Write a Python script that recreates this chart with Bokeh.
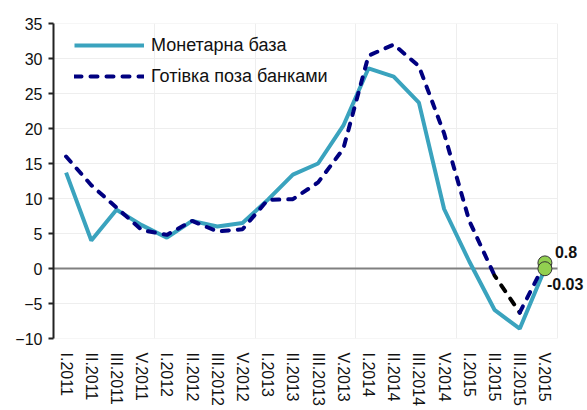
from bokeh.plotting import figure
from bokeh.models import FixedTicker, Legend, LegendItem, Grid, Label
from bokeh.embed import file_html
from bokeh.resources import INLINE

labels = ["I.2011", "II.2011", "III.2011", "V.2011",
          "I.2012", "II.2012", "III.2012", "V.2012",
          "I.2013", "II.2013", "III.2013", "V.2013",
          "I.2014", "II.2014", "III.2014", "V.2014",
          "I.2015", "II.2015", "III.2015", "V.2015"]
monetary_base = [13.7, 4.0, 8.4, 6.2, 4.4, 6.8, 6.0, 6.5, 9.8, 13.4,
                 15.0, 20.4, 28.6, 27.4, 23.7, 8.5, 1.0, -5.9, -8.6, -0.03]
cash_outside = [16.0, 11.9, 8.7, 5.5, 4.8, 6.8, 5.3, 5.6, 9.8, 9.9,
                12.3, 17.1, 30.4, 32.0, 28.9, 19.3, 6.8, -1.0, -6.3, 0.8]
name_base = "Монетарна база"
name_cash = "Готівка поза банками"
end_labels = ["0.8", "-0.03"]
y_ticks = list(range(-10, 36, 5))

FONT = "Liberation Sans"
n = len(labels)
xs = list(range(n))
x_left, x_right = -0.5, n - 0.5

# frame extends to the canvas edge so that the end labels are not clipped
p = figure(width=587, height=410, output_backend="svg", toolbar_location=None,
           x_range=(x_left, x_right + 1.19), y_range=(-10, 35),
           min_border_left=53, min_border_right=0, min_border_top=23, min_border_bottom=72)
p.outline_line_color = None
p.background_fill_color = "white"

# grids (drawn only across the category span)
p.xgrid.visible = False
p.ygrid.visible = False
vgrid = Grid(dimension=0, ticker=FixedTicker(ticks=[x_left + 4 * k for k in range(6)]),
             grid_line_color="#EEEEEE", grid_line_width=1)
p.add_layout(vgrid)
grid_y = [t for t in y_ticks if t != 0]
p.segment(x0=[x_left] * len(grid_y), x1=[x_right] * len(grid_y), y0=grid_y, y1=grid_y,
          line_color="#EEEEEE", line_width=1)
# zero line
p.segment(x0=[x_left], x1=[x_right], y0=[0], y1=[0], line_color="#808080", line_width=2)

# y axis
p.yaxis.ticker = FixedTicker(ticks=y_ticks)
p.yaxis.axis_line_color = "#222222"
p.yaxis.axis_line_width = 2
p.yaxis.major_tick_line_color = "#222222"
p.yaxis.major_tick_line_width = 2
p.yaxis.major_tick_out = 5
p.yaxis.major_tick_in = 0
p.yaxis.minor_tick_line_color = None
p.yaxis.major_label_text_font = FONT
p.yaxis.major_label_text_font_size = "16px"
p.yaxis.major_label_text_color = "#111111"
p.yaxis.major_label_standoff = 6

# x axis
p.xaxis.ticker = FixedTicker(ticks=xs)
p.xaxis.major_label_overrides = {i: l for i, l in enumerate(labels)}
p.xaxis.axis_line_color = None
p.xaxis.major_tick_line_color = None
p.xaxis.minor_tick_line_color = None
p.xaxis.major_label_orientation = "vertical"
p.xaxis.major_label_text_font = FONT
p.xaxis.major_label_text_font_size = "16px"
p.xaxis.major_label_text_color = "#111111"
p.xaxis.major_label_standoff = 8

DASH = "7 9"
r_base = p.line(xs, monetary_base, line_color="#3AA3BE", line_width=4)
r_cash = p.line(xs[:18], cash_outside[:18], line_color="#000080", line_width=4,
                line_dash=DASH, line_cap="round")
# black dashed segment between II.2015 and III.2015, then navy again
p.line(xs[17:19], cash_outside[17:19], line_color="#000000", line_width=4,
       line_dash=DASH, line_dash_offset=4, line_cap="round")
p.line(xs[18:], cash_outside[18:], line_color="#000080", line_width=4,
       line_dash=DASH, line_cap="round")

# end markers
end_vals = [cash_outside[-1], monetary_base[-1]]
end_x = [xs[-1], xs[-1]]
p.scatter(end_x, end_vals, size=14, fill_color="#92D050", line_color="#333333", line_width=1)

p.add_layout(Label(x=xs[-1], y=cash_outside[-1], text=end_labels[0], x_offset=10, y_offset=11,
                   text_font=FONT, text_font_size="16px", text_font_style="bold",
                   text_color="#111111", text_baseline="middle", text_align="left"))
p.add_layout(Label(x=xs[-1], y=monetary_base[-1], text=end_labels[1], x_offset=2, y_offset=-15,
                   text_font=FONT, text_font_size="16px", text_font_style="bold",
                   text_color="#111111", text_baseline="middle", text_align="left"))

legend = Legend(items=[LegendItem(label=name_base, renderers=[r_base]),
                       LegendItem(label=name_cash, renderers=[r_cash])],
                location=(21, 250), margin=0, padding=10, spacing=7,
                glyph_width=70, glyph_height=24, label_height=24,
                label_standoff=7, label_text_font=FONT, label_text_font_size="18px",
                label_text_color="#111111",
                background_fill_alpha=0, border_line_color=None)
p.add_layout(legend)

open("out.html", "w").write(file_html(p, INLINE))
